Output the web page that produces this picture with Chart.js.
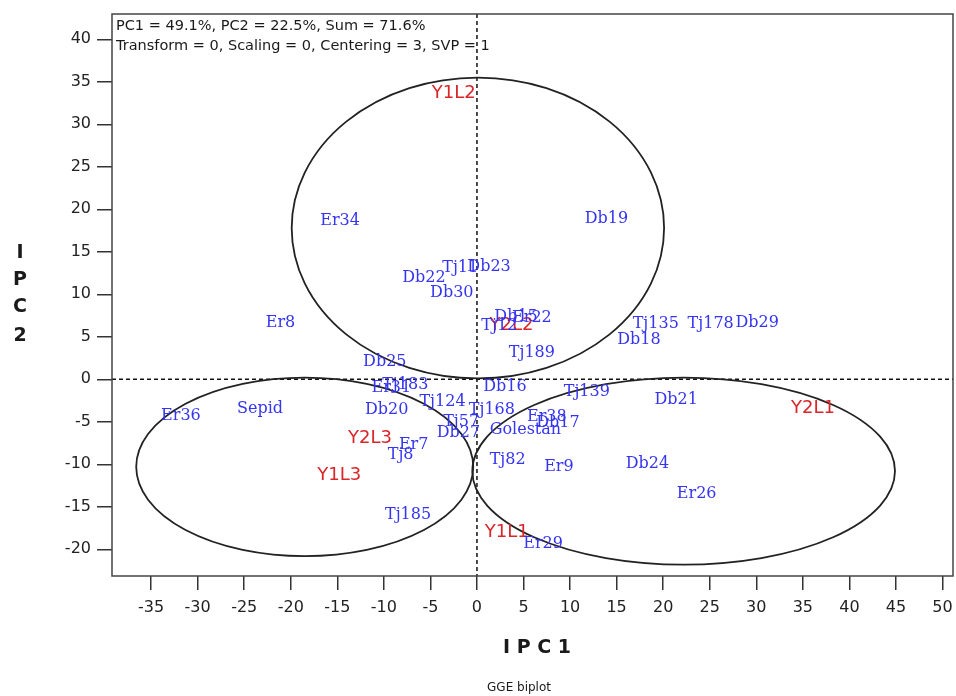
<!DOCTYPE html>
<html>
<head>
<meta charset="utf-8">
<script src="https://cdn.jsdelivr.net/npm/chart.js@4"></script>
<style>
html,body{margin:0;padding:0;background:#fff;}
#wrap{width:956px;height:696px;position:relative;}
</style>
</head>
<body>
<div id="wrap"><canvas id="c"></canvas></div>
<script>
// ---- data ----
const genoNames = ["Er34","Db19","Tj11","Db23","Db22","Db30","Db15","Er22","Tj12","Tj189","Er8","Tj135","Tj178","Db29","Db18","Db25","Er31","Tj183","Db16","Tj139","Db21","Db20","Tj124","Tj168","Er38","Db17","Golestan","Tj57","Db27","Er7","Tj8","Tj82","Er9","Db24","Er26","Tj185","Er29","Er36","Sepid"];
const genoX = [-14.7,13.9,-1.8,1.3,-5.7,-2.7,4.2,5.9,2.4,5.9,-21.1,19.2,25.1,30.1,17.4,-9.9,-9.2,-7.7,3.0,11.8,21.4,-9.7,-3.7,1.6,7.5,8.7,5.2,-1.7,-2.0,-6.8,-8.2,3.3,8.8,18.3,23.6,-7.4,7.1,-31.8,-23.3];
const genoY = [18.6,18.9,13.1,13.2,11.9,10.2,7.4,7.2,6.3,3.1,6.7,6.5,6.5,6.6,4.6,2.0,-1.0,-0.7,-0.9,-1.5,-2.4,-3.6,-2.7,-3.6,-4.4,-5.1,-6.0,-5.0,-6.3,-7.7,-8.9,-9.5,-10.3,-10.0,-13.5,-16.0,-19.4,-4.3,-3.5];
const envNames = ["Y1L2","Y2L1","Y2L3","Y1L3","Y1L1","Y2L2"];
const envX = [-2.5,36.1,-11.5,-14.8,3.2,3.7];
const envY = [33.7,-3.4,-6.9,-11.3,-18.0,6.4];
// mega-environment ellipses (centre / radii in data units)
const ellCx = [0.1,-18.5,22.2];
const ellCy = [17.8,-10.3,-10.8];
const ellRx = [20.0,18.1,22.7];
const ellRy = [17.7,10.5,11.0];
const xTicks = [-35,-30,-25,-20,-15,-10,-5,0,5,10,15,20,25,30,35,40,45,50];
const yTicks = [-20,-15,-10,-5,0,5,10,15,20,25,30,35,40];
const infoLines = ["PC1 = 49.1%, PC2 = 22.5%, Sum = 71.6%","Transform = 0, Scaling = 0, Centering = 3, SVP = 1"];
const xTitle = "I P C 1";
const yTitleLetters = ["I","P","C","2"];
const caption = "GGE biplot";

const BLUE = "#3434f4";
const RED = "#d9262a";

const genoData = genoX.map((x,i)=>({x:x,y:genoY[i]}));
const envData = envX.map((x,i)=>({x:x,y:envY[i]}));

const decor = {
  id:'decor',
  beforeDatasetsDraw(chart){
    const {ctx, chartArea:a, scales:{x, y}} = chart;
    ctx.save();
    ctx.beginPath(); ctx.rect(a.left,a.top,a.right-a.left,a.bottom-a.top); ctx.clip();
    ctx.strokeStyle = "#111"; ctx.lineWidth = 1.5; ctx.setLineDash([4,3]);
    const x0 = x.getPixelForValue(0), y0 = y.getPixelForValue(0);
    ctx.beginPath(); ctx.moveTo(x0,a.top); ctx.lineTo(x0,a.bottom); ctx.stroke();
    ctx.beginPath(); ctx.moveTo(a.left,y0); ctx.lineTo(a.right,y0); ctx.stroke();
    ctx.setLineDash([]);
    ctx.strokeStyle = "#222"; ctx.lineWidth = 1.8;
    for(let i=0;i<ellCx.length;i++){
      const cx = x.getPixelForValue(ellCx[i]), cy = y.getPixelForValue(ellCy[i]);
      const rx = Math.abs(x.getPixelForValue(ellCx[i]+ellRx[i]) - cx);
      const ry = Math.abs(y.getPixelForValue(ellCy[i]+ellRy[i]) - cy);
      ctx.beginPath(); ctx.ellipse(cx,cy,rx,ry,0,0,Math.PI*2); ctx.stroke();
    }
    ctx.restore();
  },
  afterDatasetsDraw(chart){
    const ctx = chart.ctx;
    ctx.save();
    ctx.textAlign = 'center'; ctx.textBaseline = 'middle';
    const m0 = chart.getDatasetMeta(0), m1 = chart.getDatasetMeta(1);
    ctx.font = "18px 'DejaVu Sans'"; ctx.fillStyle = RED;
    m1.data.forEach((p,i)=>ctx.fillText(envNames[i], p.x, p.y));
    ctx.font = "16px 'DejaVu Serif'"; ctx.fillStyle = BLUE;
    m0.data.forEach((p,i)=>ctx.fillText(genoNames[i], p.x, p.y));
    ctx.restore();
  },
  afterDraw(chart){
    const {ctx, chartArea:a} = chart;
    ctx.save();
    ctx.strokeStyle = "#444"; ctx.lineWidth = 1.5;
    ctx.strokeRect(a.left, a.top, a.right-a.left, a.bottom-a.top);
    ctx.fillStyle = "#1a1a1a";
    ctx.font = "14.5px 'DejaVu Sans'"; ctx.textAlign='left'; ctx.textBaseline='middle';
    ctx.fillText(infoLines[0], a.left+4, a.top+12);
    ctx.fillText(infoLines[1], a.left+4, a.top+32);
    ctx.textAlign='center';
    ctx.font = "bold 19px 'DejaVu Sans'";
    ctx.fillText(xTitle, 537, 648);
    const ys = [253,280,307,336];
    yTitleLetters.forEach((t,i)=>ctx.fillText(t, 20, ys[i]));
    ctx.font = "12px 'DejaVu Sans'";
    ctx.fillText(caption, 519, 688);
    ctx.restore();
  }
};

new Chart(document.getElementById('c'), {
  type:'scatter',
  data:{datasets:[
    {label:'Genotypes', data:genoData, pointRadius:0, pointHoverRadius:0},
    {label:'Environments', data:envData, pointRadius:0, pointHoverRadius:0}
  ]},
  options:{
    responsive:true, maintainAspectRatio:false, animation:false,
    layout:{padding:{left:0,top:14,right:3,bottom:0}},
    plugins:{legend:{display:false}, tooltip:{enabled:false}},
    scales:{
      x:{type:'linear', min:-39.2, max:51.13,
        afterBuildTicks(s){ s.ticks = xTicks.map(v=>({value:v})); },
        afterFit(s){ s.height = 120; s.paddingLeft = 0; s.paddingRight = 0; },
        grid:{drawOnChartArea:false, drawTicks:true, tickLength:14, color:"#333", lineWidth:1.5},
        border:{display:false},
        ticks:{color:"#222", padding:8, maxRotation:0, autoSkip:false, font:{family:"'DejaVu Sans'", size:16}}
      },
      y:{type:'linear', min:-23.14, max:42.98,
        afterBuildTicks(s){ s.ticks = yTicks.map(v=>({value:v})); },
        afterFit(s){ s.width = 112; s.paddingTop = 0; s.paddingBottom = 0; },
        grid:{drawOnChartArea:false, drawTicks:true, tickLength:15, color:"#333", lineWidth:1.5},
        border:{display:false},
        ticks:{color:"#222", padding:6, autoSkip:false, font:{family:"'DejaVu Sans'", size:16}}
      }
    }
  },
  plugins:[decor]
});
</script>
</body>
</html>
